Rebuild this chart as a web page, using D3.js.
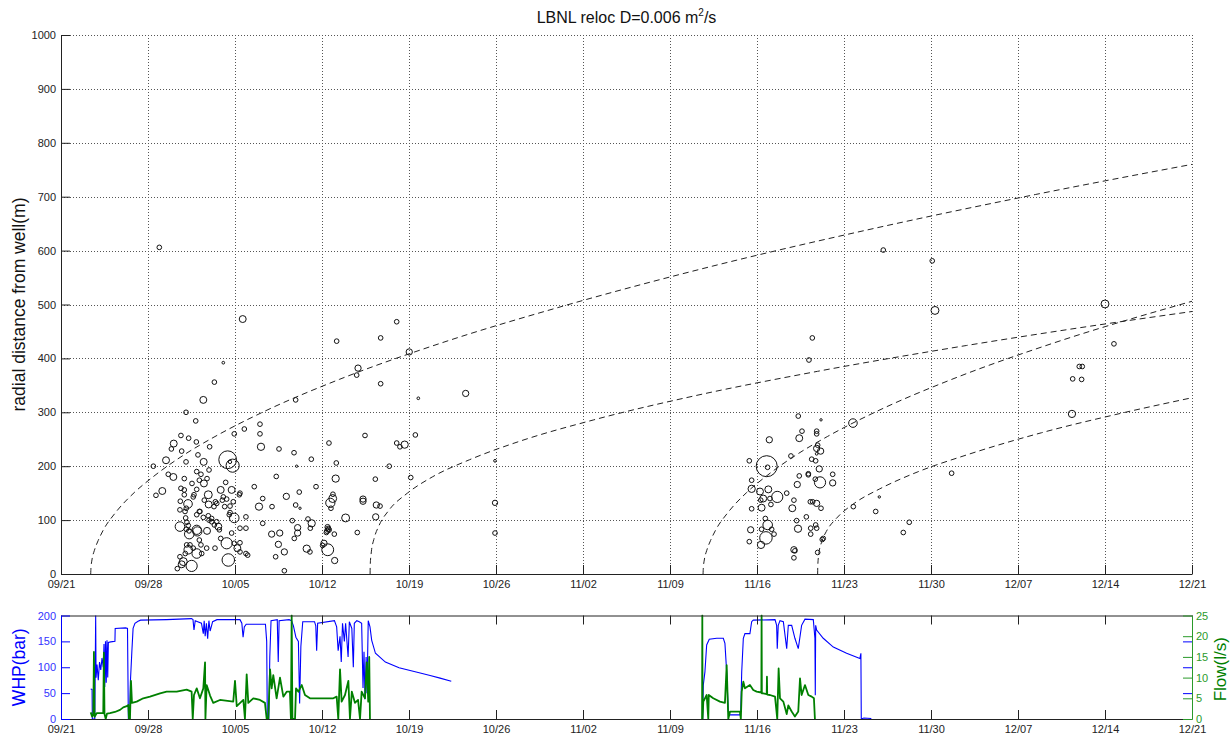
<!DOCTYPE html>
<html>
<head>
<meta charset="utf-8">
<script src="https://cdn.jsdelivr.net/npm/d3@7"></script>
<style>
  body { margin: 0; background: #fff; }
  svg { display: block; }
  text { font-family: "Liberation Sans", Arial, Helvetica, sans-serif; }
</style>
</head>
<body>
<svg id="chart" width="1231" height="739"></svg>
<script>
// ---- tick labels -------------------------------------------------------
const dateLabels = ["09/21","09/28","10/05","10/12","10/19","10/26","11/02",
                    "11/09","11/16","11/23","11/30","12/07","12/14","12/21"];
const distanceTicks = [0,100,200,300,400,500,600,700,800,900,1000];
const whpTicks = [0,50,100,150,200];
const flowTicks = [0,5,10,15,20,25];

// ---- relocated events: [day since 09/21, radial distance (m), magnitude] ----
const events = [
  [7.91,606,0.5],[14.62,473,0.85],[13.06,392,0.2],[12.34,356,0.5],[11.45,323,0.85],
  [10.06,300,0.5],[10.84,284,0.5],[9.65,257,0.5],[10.27,252,0.5],[10.89,245,0.5],
  [9.07,242,0.85],[8.88,232,0.5],[9.71,228,0.5],[11.96,236,0.5],[11.02,221,0.5],
  [11.48,208,0.85],[8.45,211,0.85],[7.43,200,0.5],[10.06,208,0.5],[8.63,185,0.5],
  [9.04,180,0.85],[8.15,154,0.85],[7.64,146,0.5],[10.92,190,0.5],[11.26,185,0.5],
  [11.91,193,0.5],[9.92,177,0.5],[11.5,168,0.85],[10.54,168,0.5],[11.13,174,0.5],
  [11.75,177,0.5],[9.92,156,0.5],[9.65,159,0.5],[10.92,157,0.5],[11.85,147,1.0],
  [10.64,143,0.5],[10.22,130,1.1],[9.6,135,0.5],[9.57,119,0.5],[10.08,122,0.5],
  [11.18,116,0.5],[11.88,129,0.85],[12.31,125,0.5],[12.42,134,0.5],[12.85,156,0.85],
  [13.25,170,0.5],[13.73,156,0.85],[13.06,143,0.5],[13.33,139,0.5],[13.86,134,0.5],
  [14.4,150,0.5],[13.17,125,0.5],[13.6,114,0.5],[13.94,104,1.25],[11.91,100,0.5],
  [12.12,97,0.5],[12.34,91,0.5],[12.74,82,0.5],[11.75,80,0.85],[10.92,82,1.2],
  [13.94,260,0.5],[14.75,269,0.5],[13.41,212,2.5],[13.81,201,1.8],[13.6,208,0.3],
  [9.92,147,0.5],[14.35,147,0.5],[10.7,147,0.5],[11.53,137,0.5],[12.53,131,0.5],
  [12.98,137,0.5],[13.6,126,0.5],[9.98,116,0.5],[11.13,116,0.5],[10.92,110,0.5],
  [11.45,105,0.5],[11.85,108,0.5],[12.12,103,0.5],[12.53,97,0.5],[12.66,88,0.85],
  [13.54,110,0.5],[14.88,106,0.5],[14.88,85,0.5],[14.4,85,0.5],[10.03,104,0.5],
  [10.13,96,0.5],[10.24,90,0.5],[10.08,83,0.5],[10.3,80,0.5],[9.57,88,1.25],
  [10.32,74,1.25],[10.97,79,1.2],[11.13,63,0.5],[11.26,54,0.5],[10.38,54,0.5],
  [10.64,48,0.5],[10.11,54,0.5],[10.24,45,1.1],[10.92,38,1.25],[11.32,38,0.5],
  [11.72,48,0.5],[12.39,48,0.5],[12.85,66,0.5],[13.33,57,1.5],[13.46,26,1.7],
  [13.94,57,0.5],[14.19,48,0.85],[14.4,41,0.5],[14.88,38,0.5],[13.73,76,0.5],
  [14.4,58,0.5],[9.57,32,0.5],[9.84,23,1.0],[9.36,10,0.5],[10.51,15,1.5],
  [10.0,38,0.5],[9.71,18,0.85],
  [25.72,353,0.5],[18.88,323,0.5],[28.75,326,0.2],[16.01,278,0.5],[16.01,260,0.5],
  [16.09,236,0.9],[17.54,232,0.5],[18.75,225,0.5],[20.14,213,0.5],[21.56,243,0.5],
  [22.15,206,0.5],[24.46,257,0.5],[27.01,243,0.5],[27.27,236,0.5],[27.65,240,0.9],
  [28.51,258,0.5],[26.41,200,0.5],[18.96,200,0.15],[17.32,181,0.5],[15.55,162,0.5],
  [20.52,162,0.5],[22.1,177,0.9],[25.29,176,0.5],[28.14,179,0.5],[19.17,152,0.5],
  [18.13,144,0.75],[16.23,140,0.5],[21.88,148,0.5],[21.86,140,1.0],[21.67,132,1.2],
  [21.72,122,0.5],[24.3,139,0.75],[24.3,135,0.75],[15.93,125,0.9],[16.98,125,0.5],
  [18.88,128,0.5],[19.23,122,0.15],[25.37,128,0.75],[25.67,126,0.5],[22.9,104,1.0],
  [25.32,106,0.75],[16.23,94,0.5],[18.61,99,0.5],[19.87,102,0.5],[20.17,94,0.9],
  [19.04,86,0.75],[20.06,85,0.5],[21.45,87,0.6],[21.5,84,0.6],[21.42,80,0.6],
  [21.55,82,0.6],[21.35,77,0.5],[21.99,74,0.5],[16.95,74,0.75],[17.6,76,0.75],
  [19.04,76,0.75],[18.77,66,0.5],[23.84,77,0.5],[17.49,55,0.75],[17.97,41,0.75],
  [17.27,32,0.5],[19.77,47,0.9],[20.03,41,0.5],[21.16,57,0.75],[21.05,53,0.5],
  [21.46,45,1.6],[22.02,25,0.75],[17.97,6,0.5],[15.02,35,0.5],[22.18,432,0.5],
  [25.72,438,0.5],[27.01,468,0.5],[28.02,412,0.75],[23.9,382,0.75],[23.79,369,0.5],
  [32.56,335,0.75],[34.92,210,0.2],[34.92,132,0.6],[34.92,76,0.5],
  [59.32,293,0.5],[61.15,286,0.15],[60.8,265,0.5],[60.8,260,0.5],[59.62,265,0.5],
  [59.4,252,0.85],[56.99,249,0.75],[63.72,280,1.1],[60.88,239,0.5],[60.8,233,0.75],
  [61.12,228,0.75],[60.8,223,0.2],[60.4,213,0.5],[60.72,210,0.5],[58.73,219,0.5],
  [55.38,210,0.5],[56.78,200,3.0],[56.85,198,0.5],[61.01,195,0.75],[59.4,182,0.5],
  [60.13,186,0.5],[60.13,184,0.5],[62.09,185,0.5],[61.07,170,1.5],[62.09,169,0.75],
  [60.69,176,0.5],[59.24,166,0.75],[55.57,174,0.5],[55.57,158,0.9],[56.24,153,0.85],
  [56.91,157,0.85],[57.63,143,1.5],[56.5,140,0.85],[56.3,137,0.5],[57.04,140,0.5],
  [58.39,150,0.5],[58.97,137,0.5],[60.29,134,0.5],[60.48,134,0.5],[60.8,131,0.75],
  [61.15,122,0.5],[63.75,125,0.5],[57.12,129,0.5],[56.37,123,0.85],[55.57,121,0.5],
  [58.84,122,0.85],[59.97,106,0.5],[59.19,99,0.5],[56.67,103,0.5],[56.86,91,1.25],
  [56.37,83,0.5],[57.18,83,0.5],[55.49,82,0.75],[57.37,74,0.5],[56.72,67,1.7],
  [59.3,84,0.9],[60.32,85,0.5],[60.72,91,0.5],[60.8,85,0.5],[60.32,74,0.5],
  [61.25,64,0.5],[55.38,60,0.5],[56.32,54,0.9],[59.05,43,0.5],[60.88,40,0.5],
  [58.97,30,0.5],[58.97,45,0.75],[66.16,601,0.5],[70.1,581,0.5],[70.32,489,1.0],
  [84.0,501,1.0],[60.45,438,0.5],[60.18,397,0.5],[84.72,427,0.5],[81.93,385,0.5],
  [82.17,385,0.5],[81.4,362,0.5],[82.12,361,0.5],[81.34,297,0.9],[71.66,187,0.5],
  [65.55,116,0.5],[68.25,96,0.5],[67.77,77,0.5],[65.84,143,0.15],[61.33,66,0.5]
];

// ---- diffusion fronts for D = 0.006 m^2/s: [day, radius (m)] ----
const triggerFront1 = [[2.39,0],[2.41,11],[2.49,26],[2.69,44],[2.99,62],[3.39,81],[4.39,114],
  [5.89,151],[7.39,180],[9.89,221],[12.39,255],[16.39,302],[22.39,361],[30.39,427],
  [40.39,497],[52.39,571],[65.39,641],[78.39,704],[91.0,760]];
const backFront1 = [[24.87,0],[24.88,16],[24.97,41],[25.17,64],[25.57,89],[26.37,118],
  [27.87,150],[29.87,180],[32.87,212],[36.87,246],[42.87,286],[50.87,330],[60.87,376],
  [72.87,424],[82.87,460],[91.0,487]];
const triggerFront2 = [[51.66,0],[51.68,11],[51.76,26],[51.96,44],[52.26,62],[52.66,81],
  [53.66,114],[55.16,151],[56.66,180],[59.16,221],[61.66,255],[65.66,302],[71.66,361],
  [79.66,427],[91.0,506]];
const backFront2 = [[60.88,0],[60.89,15],[60.98,38],[61.18,58],[61.58,79],[62.38,103],
  [63.88,132],[65.88,158],[68.88,189],[72.88,221],[78.88,262],[84.88,296],[91.0,327]];

// ---- well-head pressure (bar): [day, WHP] ----
const whp1 = [[2.39,58],[2.5,57],[2.52,0],[2.72,0],[2.79,200],[2.82,80],[2.9,105],[3.0,75],
  [3.1,110],[3.2,95],[3.3,118],[3.4,100],[3.46,145],[3.52,62],[3.58,150],[3.64,70],[3.7,152],
  [3.76,80],[3.81,148],[4.0,149],[4.34,150],[4.36,175],[5.2,176],[5.35,175],[5.42,0],[5.52,0],
  [5.58,70],[5.7,130],[5.8,175],[5.95,185],[6.2,189],[6.4,191],[8.5,192],[10.5,194],[10.62,192],
  [10.7,172],[10.8,190],[11.0,188],[11.3,185],[11.45,165],[11.52,190],[11.6,160],[11.7,185],
  [11.8,155],[11.9,190],[12.0,170],[12.2,188],[12.55,192],[14.4,192],[14.55,185],[14.65,158],
  [14.75,178],[14.9,183],[16.45,183],[16.55,150],[16.6,0],[16.72,0],[16.8,120],[16.9,190],
  [17.4,192],[17.48,110],[17.55,190],[18.35,192],[18.55,190],[18.7,180],[18.9,158],[19.1,150],
  [19.2,30],[19.3,140],[19.45,188],[20.4,188],[20.5,180],[20.57,132],[20.65,185],[22.0,190],
  [22.18,178],[22.3,132],[22.45,160],[22.55,110],[22.65,185],[22.8,150],[22.9,185],[23.1,120],
  [23.2,188],[23.4,175],[23.52,100],[23.6,185],[23.8,190],[24.0,188],[24.19,185],[24.3,60],
  [24.38,130],[24.46,38],[24.55,120],[24.62,50],[24.72,190],[24.86,178],[25.0,152],[25.3,127],
  [26.1,110],[27.2,99],[28.9,89],[29.7,84],[30.5,79],[31.4,73]];
const whp2 = [[51.63,0],[51.68,66],[51.81,91],[51.95,143],[52.16,154],[52.76,156],[53.29,156],
  [53.42,146],[53.56,91],[53.69,14],[53.77,8],[54.63,8],[54.69,14],[54.77,91],[54.9,156],
  [55.03,165],[55.43,165],[55.57,188],[55.7,191],[57.45,192],[57.58,181],[57.63,136],[57.71,181],
  [57.85,190],[58.12,188],[58.39,136],[58.52,181],[58.79,181],[59.05,156],[59.32,136],[59.59,181],
  [59.86,193],[60.53,192],[60.66,156],[60.69,46],[60.72,181],[60.8,172],[61.33,156],[62.14,139],
  [63.21,127],[64.28,117],[64.36,127],[64.39,0],[64.6,2],[65.2,1]];

// ---- injection flow rate (l/s): [day, flow] ----
const flow1 = [[2.39,1.6],[2.5,0.6],[2.6,1.2],[2.65,16.2],[2.7,0.5],[2.87,1.4],[3.14,1.4],
  [3.4,1.4],[3.45,16],[3.5,1.2],[3.6,0],[3.7,1.3],[3.94,1.4],[4.34,1.7],[4.75,2.2],[5.01,2.8],
  [5.29,3.1],[5.42,3.4],[5.47,0],[5.55,0],[5.63,9.2],[5.71,3.9],[6.09,4.2],[6.62,5.0],[7.16,5.4],
  [7.97,6.2],[8.5,6.6],[9.31,6.6],[10.11,7.1],[10.51,6.6],[10.6,0],[10.7,5.8],[10.92,7.4],
  [11.18,5.0],[11.45,7.4],[11.59,13.7],[11.62,0],[11.72,8.2],[12.0,5.6],[12.25,3.9],[12.79,4.6],
  [13.86,4.2],[14.0,9.2],[14.14,3.1],[14.67,4.6],[14.8,0],[14.94,10.8],[15.07,3.9],[15.47,5.0],
  [16.01,4.6],[16.41,3.9],[16.55,0],[16.68,0],[16.82,12],[16.95,7.4],[17.08,10.6],[17.35,5.0],
  [17.62,10],[17.89,5.4],[18.16,6.6],[18.42,6.6],[18.5,0],[18.56,25],[18.62,0],[18.83,0],
  [18.91,7.4],[19.1,6.6],[19.37,8.2],[19.63,5.8],[20.03,5.0],[20.57,5.0],[21.91,5.0],[22.18,5.4],
  [22.31,0],[22.45,12],[22.58,4.2],[22.85,5.8],[23.12,9.2],[23.25,0],[23.4,6.6],[23.65,3.9],
  [23.9,4.6],[24.06,0],[24.19,6.6],[24.46,5.0],[24.6,13.7],[24.72,4.2],[24.8,15],[24.86,0]];
const flow2 = [[51.58,0],[51.6,25],[51.62,0],[51.68,4.2],[51.95,5.8],[52.08,0],[52.12,5.8],
  [52.48,5.0],[53.02,4.2],[53.42,3.9],[53.56,13],[53.69,0],[53.83,1.8],[54.63,1.8],[54.7,0],
  [54.77,6.6],[54.9,9.0],[55.03,7.4],[55.43,8.2],[55.7,7.0],[55.97,6.6],[56.35,6.4],[56.37,25],
  [56.39,6.2],[56.5,6.2],[56.78,6.0],[56.8,10.2],[56.82,5.9],[57.04,5.8],[57.45,5.4],[57.63,0],
  [57.74,12.2],[57.85,5.0],[58.12,4.2],[58.39,1.2],[58.52,3.3],[58.79,1.8],[59.05,0.6],
  [59.32,1.8],[59.46,9.8],[59.59,5.8],[59.86,8.2],[60.13,5.8],[60.4,5.4],[60.58,5.0],[60.66,0]];

// ---- layout ----
const svg = d3.select("#chart");
const left = 61, right = 1192;
const topMain = 35, bottomMain = 574;
const topLow = 615.5, bottomLow = 719;

const x = d3.scaleLinear().domain([0, 91]).range([left, right]);
const yR = d3.scaleLinear().domain([0, 1000]).range([bottomMain, topMain]);
const yP = d3.scaleLinear().domain([0, 200]).range([bottomLow, topLow]);
const yF = d3.scaleLinear().domain([0, 25]).range([bottomLow, topLow]);
const rScale = d3.scaleLinear().domain([0, 3]).range([0.7, 10.5]);
const dayTicks = dateLabels.map((d, i) => i * 7);
const fmtDate = d => dateLabels[dayTicks.indexOf(d)];
const fmtInt = d3.format("d");

const FONT = 11;
const BLUE = "#0000ff", GREEN = "#008000";

// ---- upper panel: grid ----
const grid = svg.append("g").attr("stroke", "#555").attr("stroke-width", 1)
  .attr("stroke-dasharray", "1,2").attr("fill", "none");
grid.selectAll("line.v").data(dayTicks.slice(1)).join("line").attr("class", "v")
  .attr("x1", d => Math.round(x(d)) + 0.5).attr("x2", d => Math.round(x(d)) + 0.5)
  .attr("y1", topMain).attr("y2", bottomMain);
grid.selectAll("line.h").data(distanceTicks.slice(1)).join("line").attr("class", "h")
  .attr("y1", d => Math.round(yR(d)) + 0.5).attr("y2", d => Math.round(yR(d)) + 0.5)
  .attr("x1", left).attr("x2", right);

// ---- upper panel: events ----
svg.append("g").attr("fill", "none").attr("stroke", "#111").attr("stroke-width", 1)
  .selectAll("circle").data(events).join("circle")
  .attr("cx", d => x(d[0])).attr("cy", d => yR(d[1])).attr("r", d => rScale(d[2]));

// ---- upper panel: fronts ----
const frontLine = d3.line().x(d => x(d[0])).y(d => yR(d[1])).curve(d3.curveMonotoneX);
svg.append("g").attr("fill", "none").attr("stroke", "#222").attr("stroke-width", 1)
  .attr("stroke-dasharray", "6,4")
  .selectAll("path").data([triggerFront1, backFront1, triggerFront2, backFront2]).join("path")
  .attr("d", frontLine);

// ---- upper panel: axes ----
const axX = svg.append("g").attr("transform", `translate(0,${bottomMain})`)
  .call(d3.axisBottom(x).tickValues(dayTicks).tickFormat(fmtDate)
    .tickSizeInner(-9).tickSizeOuter(0).tickPadding(6));
const axY = svg.append("g").attr("transform", `translate(${left},0)`)
  .call(d3.axisLeft(yR).tickValues(distanceTicks).tickFormat(fmtInt)
    .tickSizeInner(-9).tickSizeOuter(0).tickPadding(5));
[axX, axY].forEach(a => {
  a.selectAll("path,line").attr("stroke", "#222");
  a.selectAll("text").attr("font-size", FONT).attr("fill", "#222")
    .attr("font-family", '"Liberation Sans", Arial, sans-serif');
});

svg.append("text").attr("x", (left + right) / 2).attr("y", 23).attr("text-anchor", "middle")
  .attr("font-size", 16).attr("fill", "#111")
  .call(t => {
    t.append("tspan").text("LBNL reloc D=0.006 m");
    t.append("tspan").text("2").attr("font-size", 10).attr("dy", -7);
    t.append("tspan").text("/s").attr("dy", 7);
  });
svg.append("text").attr("transform", `translate(25,${(topMain + bottomMain) / 2}) rotate(-90)`)
  .attr("text-anchor", "middle").attr("font-size", 17.5).attr("fill", "#111")
  .text("radial distance from well(m)");

// ---- lower panel: series ----
svg.append("defs").append("clipPath").attr("id", "lowClip").append("rect")
  .attr("x", left).attr("y", topLow - 1).attr("width", right - left).attr("height", bottomLow - topLow + 1);
const low = svg.append("g").attr("clip-path", "url(#lowClip)");
const whpLine = d3.line().x(d => x(d[0])).y(d => yP(d[1]));
const flowLine = d3.line().x(d => x(d[0])).y(d => yF(d[1]));
low.selectAll("path.whp").data([whp1, whp2]).join("path").attr("class", "whp")
  .attr("d", whpLine).attr("fill", "none").attr("stroke", BLUE).attr("stroke-width", 1.1);
low.selectAll("path.flow").data([flow1, flow2]).join("path").attr("class", "flow")
  .attr("d", flowLine).attr("fill", "none").attr("stroke", GREEN).attr("stroke-width", 1.8)
  .attr("stroke-linejoin", "round");

// ---- lower panel: axes ----
const lowX = svg.append("g").attr("transform", `translate(0,${bottomLow})`)
  .call(d3.axisBottom(x).tickValues(dayTicks).tickFormat(fmtDate)
    .tickSizeInner(-9).tickSizeOuter(0).tickPadding(6));
const lowTop = svg.append("g").attr("transform", `translate(0,${topLow})`)
  .call(d3.axisTop(x).tickValues(dayTicks).tickFormat("").tickSizeInner(-9).tickSizeOuter(0));
[lowX, lowTop].forEach(a => {
  a.selectAll("path,line").attr("stroke", "#222");
  a.selectAll("text").attr("font-size", FONT).attr("fill", "#222");
});
const lowL = svg.append("g").attr("transform", `translate(${left},0)`)
  .call(d3.axisLeft(yP).tickValues(whpTicks).tickSizeInner(-9).tickSizeOuter(0).tickPadding(5));
lowL.selectAll("path,line").attr("stroke", BLUE);
lowL.selectAll("text").attr("font-size", FONT).attr("fill", "#3333ff");
const lowLr = svg.append("g").attr("transform", `translate(${right},0)`)
  .call(d3.axisLeft(yP).tickValues(whpTicks.slice(1, -1)).tickSizeInner(9).tickSizeOuter(0).tickFormat(""));
lowLr.select(".domain").remove();
lowLr.selectAll("line").attr("stroke", BLUE);
const lowR = svg.append("g").attr("transform", `translate(${right},0)`)
  .call(d3.axisRight(yF).tickValues(flowTicks).tickSizeInner(-9).tickSizeOuter(0).tickPadding(4));
lowR.selectAll("path,line").attr("stroke", "#2a9a2a");
lowR.selectAll("text").attr("font-size", FONT).attr("fill", "#2a9a2a");

svg.append("text").attr("transform", `translate(25,${(topLow + bottomLow) / 2}) rotate(-90)`)
  .attr("text-anchor", "middle").attr("font-size", 17.5).attr("fill", BLUE).text("WHP(bar)");
svg.append("text").attr("transform", `translate(1226,${(topLow + bottomLow) / 2 + 2}) rotate(-90)`)
  .attr("text-anchor", "middle").attr("font-size", 17).attr("fill", GREEN).text("Flow(l/s)");
</script>
</body>
</html>
